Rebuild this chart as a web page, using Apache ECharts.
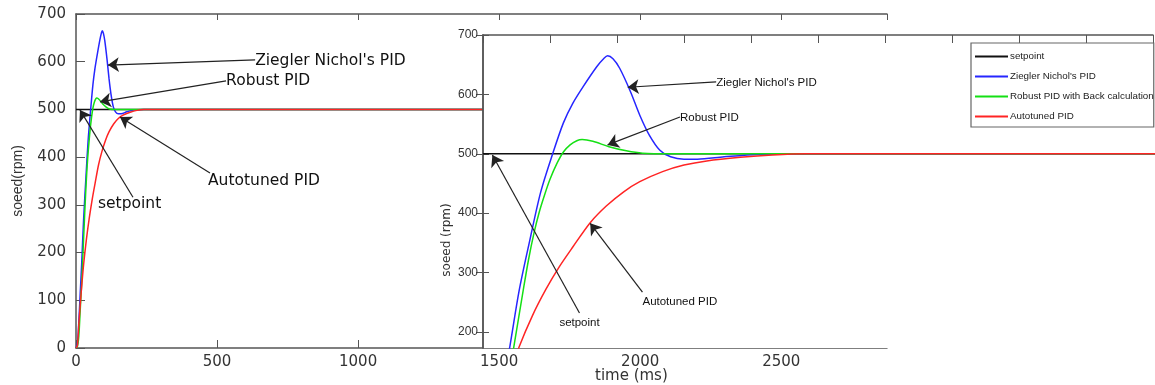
<!DOCTYPE html>
<html><head><meta charset="utf-8">
<script src="https://cdn.jsdelivr.net/npm/echarts@6/dist/echarts.min.js"></script>
<style>html,body{margin:0;padding:0;background:#fff}#c{width:1155px;height:385px}</style>
</head><body><div id="c"></div>
<script>
// ---- data (time ms, speed rpm) ----
const seriesNames = ['setpoint', "Ziegler Nichol's PID", 'Robust PID with Back calculation', 'Autotuned PID'];
const setpointData = [[0,500],[2875,500]];
const zieglerNichols = [[0,0],[5,8],[10,55],[15,115],[20,175],[27,270],[35,355],[43,435],[52,500],[60,552],[67,585],[75,614],[85,647],[90,660],[93,665],[97,660],[102,644],[110,605],[117,565],[124,532],[132,506],[140,495],[150,491],[160,491],[180,495],[205,499],[240,500],[2875,500]];
const robustPID = [[0,0],[5,3],[10,25],[15,80],[20,135],[23,175],[30,270],[34,322],[38,366],[42,402],[46,431],[50,457],[55,483],[60,503],[65,515],[70,522],[74,524],[82,521],[94,512],[107,505],[119,501],[140,500],[2875,500]];
const autotunedPID = [[0,0],[5,5],[10,50],[15,90],[20,128],[27,175],[37,228],[47,272],[57,310],[67,343],[80,384],[92,412],[105,436],[117,453],[134,470],[150,481],[167,488],[192,494],[216,498],[241,500],[2875,500]];
const mainYTicks = [0,100,200,300,400,500,600,700];
const insetYTicks = [200,300,400,500,600,700];
// annotations: [label, textAnchor, arrowStart, arrowTip]
const mainNotes = [
  ["Ziegler Nichol's PID", [635,601], [635,604], [113,593]],
  ['Robust PID', [532,560], [532,560], [85,516]],
  ['Autotuned PID', [468,350], [475,367], [156,484]],
  ['setpoint', [78,302], [202,316], [14,499]]
];
const insetNotes = [
  ["Ziegler Nichol's PID", [174,619], [174,621], [108,612]],
  ['Robust PID', [147,560], [147,562], [93,515]],
  ['Autotuned PID', [119,250], [119,267], [80,383]],
  ['setpoint', [57,215], [72,232], [7,498]]
];
const colors = ['#111111', '#2626ff', '#14e014', '#ff2424'];
const dataSets = [setpointData, zieglerNichols, robustPID, autotunedPID];

const ARIAL = "'Liberation Sans',Arial,sans-serif";
const WIDE = "'DejaVu Sans',sans-serif";
const axisCol = '#555';

function notesMarks(notes, font, size, z) {
  return {
    markLine: {
      silent: true, animation: false, z: z,
      symbol: ['none', 'arrow'], symbolSize: 11,
      label: {show: false},
      lineStyle: {color: '#222', width: 1.2, type: 'solid'},
      emphasis: {disabled: true},
      data: notes.map(n => [{coord: n[2]}, {coord: n[3]}])
    },
    markPoint: {
      silent: true, animation: false, z: z,
      symbol: 'circle', symbolSize: 0,
      label: {show: true, position: 'right', distance: 0, formatter: '{b}', color: '#111', fontFamily: font, fontSize: size},
      data: notes.map(n => ({name: n[0], coord: n[1]}))
    }
  };
}

const series = [];
dataSets.forEach((d, i) => {
  const s = {name: seriesNames[i], type: 'line', xAxisIndex: 0, yAxisIndex: 0, data: d,
    symbol: 'none', smooth: 0.3, z: 2, color: colors[i], lineStyle: {color: colors[i], width: 1.5}, animation: false};
  if (i === 0) Object.assign(s, notesMarks(mainNotes, WIDE, 15.5, 5));
  series.push(s);
});
dataSets.forEach((d, i) => {
  const s = {name: seriesNames[i], type: 'line', xAxisIndex: 2, yAxisIndex: 1, data: d,
    symbol: 'none', smooth: 0.3, z: 12, color: colors[i], lineStyle: {color: colors[i], width: 1.5}, animation: false};
  if (i === 0) Object.assign(s, notesMarks(insetNotes, ARIAL, 11.5, 13));
  series.push(s);
});

const plain = v => String(v);
const chart = echarts.init(document.getElementById('c'));
chart.setOption({
  animation: false,
  backgroundColor: '#fff',
  grid: [
    {left: 76, top: 14, width: 811, height: 334, show: false},
    {left: 483, top: 35, width: 670, height: 313, show: true, backgroundColor: '#fff', borderWidth: 0, z: 10}
  ],
  xAxis: [
    {gridIndex: 0, type: 'value', min: 0, max: 2875, interval: 500, position: 'bottom',
     axisLine: {lineStyle: {color: axisCol, width: 1.5}},
     axisTick: {inside: true, length: 8, lineStyle: {color: axisCol}},
     axisLabel: {margin: 7, color: '#333', fontFamily: WIDE, fontSize: 15, showMaxLabel: false, formatter: plain},
     splitLine: {show: false}},
    {gridIndex: 0, type: 'value', min: 0, max: 2875, interval: 500, position: 'top',
     axisLine: {lineStyle: {color: axisCol, width: 1.5}},
     axisTick: {inside: true, length: 6, lineStyle: {color: axisCol}},
     axisLabel: {show: false}, splitLine: {show: false}},
    {gridIndex: 1, type: 'value', min: 0, max: 500, interval: 50, position: 'bottom', z: 11,
     axisLine: {show: false},
     axisTick: {show: false}, axisLabel: {show: false}, splitLine: {show: false}},
    {gridIndex: 1, type: 'value', min: 0, max: 500, interval: 50, position: 'top', z: 11,
     axisLine: {lineStyle: {color: axisCol, width: 1.5}},
     axisTick: {inside: true, length: 8, lineStyle: {color: axisCol}},
     axisLabel: {show: false}, splitLine: {show: false}}
  ],
  yAxis: [
    {gridIndex: 0, type: 'value', min: 0, max: 700, position: 'left',
     axisLine: {show: true, lineStyle: {color: axisCol, width: 1.5}},
     axisTick: {show: true, inside: true, length: 9, customValues: mainYTicks, lineStyle: {color: axisCol}},
     axisLabel: {margin: 10, color: '#333', fontFamily: WIDE, fontSize: 15, customValues: mainYTicks, formatter: plain},
     splitLine: {show: false},
     name: 'soeed(rpm)', nameLocation: 'middle', nameGap: 51,
     nameTextStyle: {fontFamily: ARIAL, fontSize: 14, color: '#333'}},
    {gridIndex: 1, type: 'value', min: 173, max: 700, position: 'left', z: 11,
     axisLine: {show: true, lineStyle: {color: axisCol, width: 1.5}},
     axisTick: {show: true, inside: true, length: 6, customValues: insetYTicks, lineStyle: {color: axisCol}},
     axisLabel: {margin: 5, color: '#333', fontFamily: ARIAL, fontSize: 12, customValues: insetYTicks, formatter: plain},
     splitLine: {show: false}},
    {gridIndex: 1, type: 'value', min: 173, max: 700, position: 'right', z: 11,
     axisLine: {show: true, lineStyle: {color: axisCol, width: 1.5}},
     axisTick: {show: true, inside: true, length: 7, customValues: insetYTicks, lineStyle: {color: axisCol}},
     axisLabel: {show: false}, splitLine: {show: false}}
  ],
  legend: {
    orient: 'vertical', left: 971, top: 43, z: 20,
    padding: [7, 0, 4, 4],
    backgroundColor: '#fff', borderColor: '#666', borderWidth: 1.2,
    icon: 'rect', itemWidth: 33, itemHeight: 2, itemGap: 7,
    textStyle: {fontFamily: ARIAL, fontSize: 9.8, color: '#222', lineHeight: 13, padding: [0, 0, 0, -3]},
    data: seriesNames
  },
  graphic: [
    {type: 'text', left: 595, top: 369, z: 20, style: {text: 'time (ms)', font: "15px 'DejaVu Sans'", fill: '#333'}},
    {type: 'text', x: 447, y: 240, rotation: Math.PI / 2, z: 20,
     style: {text: 'soeed (rpm)', font: "12px 'DejaVu Sans'", fill: '#333', align: 'center', verticalAlign: 'middle'}}
  ],
  series: series
});
</script></body></html>
